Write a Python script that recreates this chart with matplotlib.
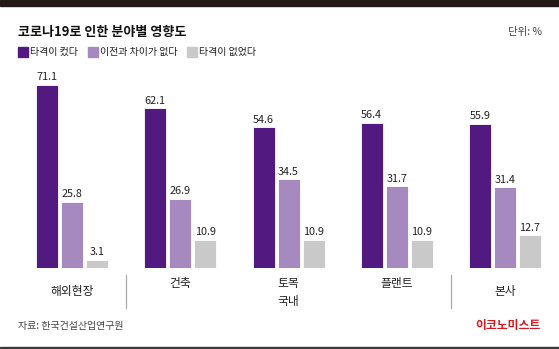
import matplotlib
matplotlib.use('Agg')
import matplotlib.pyplot as plt
import matplotlib.transforms as mtransforms
from matplotlib.patches import Rectangle
import numpy as np

plt.rcParams['font.family'] = ['Noto Sans CJK KR', 'DejaVu Sans']

# data
groups = ['해외현장', '건축', '토목', '플랜트', '본사']
series_names = ['타격이 컸다', '이전과 차이가 없다', '타격이 없었다']
big_hit = [71.1, 62.1, 54.6, 56.4, 55.9]
no_diff = [25.8, 26.9, 34.5, 31.7, 31.4]
no_hit = [3.1, 10.9, 10.9, 10.9, 12.7]
colors = ['#521a80', '#a68abf', '#c9c9c9']

W, H = 559, 349
fig = plt.figure(figsize=(W / 100, H / 100), dpi=100)
fig.patch.set_facecolor('white')


def fy(py):
    # pixel from top -> figure fraction
    return 1 - py / H


# axes covers the full width, baseline at y=268px
ax = fig.add_axes([0, fy(268), 1, (268 - 70) / H])
ax.set_xlim(-72 / 108.25, (W - 72) / 108.25)
ax.set_ylim(0, 198 / 2.575)
ax.axis('off')

x = np.arange(len(groups))
step = 25 / 108.25
width = 22 / 108.25
for k, vals in enumerate([big_hit, no_diff, no_hit]):
    xs = x + (k - 1) * step
    ax.bar(xs, vals, width=width, color=colors[k], edgecolor='white', linewidth=0.6)
    for xi, v in zip(xs, vals):
        ax.text(xi, v + 1.0, f'{v}', ha='center', va='bottom', fontsize=7.8,
                color='#222222')

trans = mtransforms.blended_transform_factory(ax.transData, fig.transFigure)

# category labels
label_y = [291, 283, 283, 283, 291]
for xi, g, ly in zip(x, groups, label_y):
    ax.text(xi, fy(ly), g, transform=trans, ha='center', va='center',
            fontsize=8.5, color='#222222')
ax.text(2, fy(302), '국내', transform=trans, ha='center', va='center',
        fontsize=8.5, color='#222222')

# separators
for sx in [0.5, 3.5]:
    ax.plot([sx, sx], [fy(275), fy(308)], transform=trans, color='#aaaaaa',
            linewidth=0.9, clip_on=False)

# title, unit, legend
fig.text(18 / W, fy(32), '코로나19로 인한 분야별 영향도', fontsize=9.4,
         fontweight='bold', ha='left', va='center', color='#111111')
fig.text(542 / W, fy(32), '단위: %', fontsize=7.5, ha='right', va='center',
         color='#444444')

leg_x = [18, 88, 187]
for lx, name, c in zip(leg_x, series_names, colors):
    fig.patches.append(Rectangle((lx / W, fy(57)), 10 / W, 10 / H,
                                 transform=fig.transFigure, color=c))
    fig.text((lx + 12) / W, fy(52), name, fontsize=7.2, ha='left',
             va='center', color='#222222')

# footer
fig.text(18 / W, fy(326), '자료: 한국건설산업연구원', fontsize=7.2, ha='left',
         va='center', color='#444444')
fig.text(541 / W, fy(326), '이코노미스트', fontsize=8.5, fontweight='bold',
         ha='right', va='center', color='#d7191f')

# top bar and bottom rule
fig.patches.append(Rectangle((0, fy(6)), 1, 6 / H, transform=fig.transFigure,
                             color='#231815'))
fig.patches.append(Rectangle((0, 0), 1, 2.5 / H, transform=fig.transFigure,
                             color='#3a3a3a'))

fig.savefig('out.png', dpi=100, facecolor='white')
